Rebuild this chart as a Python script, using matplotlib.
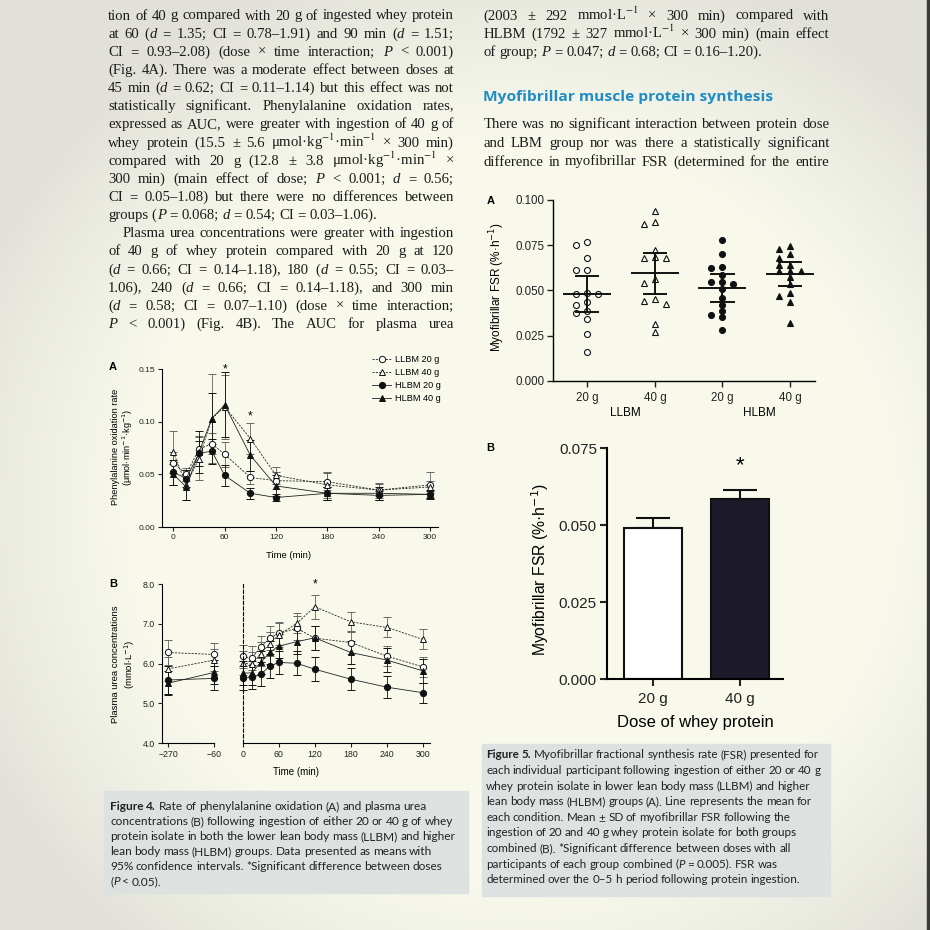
import numpy as np
import matplotlib
matplotlib.use("Agg")
import matplotlib.pyplot as plt
from matplotlib.lines import Line2D
from matplotlib.patches import Rectangle

plt.rcParams['font.family'] = 'Liberation Sans'

# ---------------- data ----------------
# Fig 4A: phenylalanine oxidation rate, mean and 95% CI half-width
t_ox = [0, 15, 30, 45, 60, 90, 120, 180, 240, 300]
ox_llbm20 = [0.061, 0.050, 0.074, 0.079, 0.069, 0.047, 0.044, 0.043, 0.035, 0.040]
ox_llbm40 = [0.071, 0.040, 0.065, 0.103, 0.114, 0.084, 0.049, 0.040, 0.035, 0.038]
ox_hlbm20 = [0.052, 0.046, 0.070, 0.072, 0.049, 0.032, 0.028, 0.032, 0.030, 0.031]
ox_hlbm40 = [0.050, 0.038, 0.071, 0.103, 0.116, 0.068, 0.039, 0.032, 0.032, 0.031]
ox_llbm20_ci = [0.010, 0.006, 0.012, 0.010, 0.012, 0.006, 0.008, 0.008, 0.006, 0.012]
ox_llbm40_ci = [0.020, 0.014, 0.020, 0.042, 0.030, 0.015, 0.008, 0.012, 0.007, 0.006]
ox_hlbm20_ci = [0.012, 0.008, 0.012, 0.012, 0.010, 0.005, 0.003, 0.006, 0.004, 0.003]
ox_hlbm40_ci = [0.010, 0.012, 0.020, 0.024, 0.031, 0.015, 0.010, 0.006, 0.006, 0.004]

# Fig 4B: plasma urea (mmol/L)
t_pre = [-270, -60]
t_post = [0, 15, 30, 45, 60, 90, 120, 180, 240, 300]
urea_llbm20 = [6.28, 6.23, 6.18, 6.14, 6.41, 6.64, 6.76, 6.89, 6.64, 6.53, 6.19, 5.92]
urea_llbm40 = [5.87, 6.09, 6.02, 5.98, 6.25, 6.50, 6.72, 7.01, 7.43, 7.05, 6.91, 6.61]
urea_hlbm20 = [5.59, 5.63, 5.63, 5.66, 5.73, 5.94, 6.03, 6.01, 5.86, 5.61, 5.41, 5.27]
urea_hlbm40 = [5.51, 5.78, 5.76, 5.77, 6.03, 6.28, 6.44, 6.55, 6.65, 6.28, 6.09, 5.82]
urea_llbm20_ci = [0.32, 0.30, 0.30, 0.30, 0.28, 0.30, 0.28, 0.30, 0.30, 0.30, 0.25, 0.25]
urea_llbm40_ci = [0.30, 0.28, 0.30, 0.30, 0.30, 0.30, 0.30, 0.25, 0.30, 0.25, 0.25, 0.25]
urea_hlbm20_ci = [0.35, 0.30, 0.30, 0.30, 0.30, 0.30, 0.30, 0.30, 0.30, 0.28, 0.27, 0.25]
urea_hlbm40_ci = [0.30, 0.30, 0.30, 0.30, 0.30, 0.30, 0.30, 0.30, 0.30, 0.30, 0.30, 0.30]

series = ['LLBM 20 g', 'LLBM 40 g', 'HLBM 20 g', 'HLBM 40 g']

# Fig 5A: individual myofibrillar FSR (%/h)
fsr_llbm20 = [0.0769, 0.0751, 0.0681, 0.0613, 0.0613, 0.0484, 0.0480, 0.0480,
              0.0434, 0.0419, 0.0386, 0.0373, 0.0341, 0.0257, 0.0160]
fsr_llbm40 = [0.0939, 0.0866, 0.0880, 0.0723, 0.0681, 0.0681, 0.0686, 0.0561,
              0.0539, 0.0441, 0.0452, 0.0423, 0.0271, 0.0312]
fsr_hlbm20 = [0.0779, 0.0700, 0.0622, 0.0631, 0.0585, 0.0545, 0.0534, 0.0545,
              0.0508, 0.0456, 0.0419, 0.0386, 0.0363, 0.0354, 0.0281]
fsr_hlbm40 = [0.0729, 0.0747, 0.0700, 0.0681, 0.0640, 0.0640, 0.0607, 0.0607,
              0.0607, 0.0576, 0.0534, 0.0470, 0.0484, 0.0437, 0.0321]
fsr_mean = [0.0480, 0.0594, 0.0511, 0.0590]
fsr_err = [0.0099, 0.0115, 0.0077, 0.0065]
cat_labels = ['20 g', '40 g', '20 g', '40 g']

# Fig 5B: both groups combined, mean and SD
dose_labels = ['20 g', '40 g']
dose_mean = [0.0492, 0.0585]
dose_sd = [0.0031, 0.0030]

# ---------------- page text ----------------
left_col = [
    "tion of 40 g compared with 20 g of ingested whey protein",
    "at 60 (_d_ = 1.35; CI = 0.78–1.91) and 90 min (_d_ = 1.51;",
    "CI = 0.93–2.08) (dose × time interaction; _P_ < 0.001)",
    "(Fig. 4A). There was a moderate effect between doses at",
    "45 min (_d_ = 0.62; CI = 0.11–1.14) but this effect was not",
    "statistically significant. Phenylalanine oxidation rates,",
    "expressed as AUC, were greater with ingestion of 40 g of",
    "whey protein (15.5 ± 5.6 μmol·kg$^{-1}$·min$^{-1}$ × 300 min)",
    "compared with 20 g (12.8 ± 3.8 μmol·kg$^{-1}$·min$^{-1}$ ×",
    "300 min) (main effect of dose; _P_ < 0.001; _d_ = 0.56;",
    "CI = 0.05–1.08) but there were no differences between",
    "groups (_P_ = 0.068; _d_ = 0.54; CI = 0.03–1.06).",
    "Plasma urea concentrations were greater with ingestion",
    "of 40 g of whey protein compared with 20 g at 120",
    "(_d_ = 0.66; CI = 0.14–1.18), 180 (_d_ = 0.55; CI = 0.03–",
    "1.06), 240 (_d_ = 0.66; CI = 0.14–1.18), and 300 min",
    "(_d_ = 0.58; CI = 0.07–1.10) (dose × time interaction;",
    "_P_ < 0.001) (Fig. 4B). The AUC for plasma urea",
]
right_top = [
    "(2003 ± 292 mmol·L$^{-1}$ × 300 min) compared with",
    "HLBM (1792 ± 327 mmol·L$^{-1}$ × 300 min) (main effect",
    "of group; _P_ = 0.047; _d_ = 0.68; CI = 0.16–1.20).",
]
heading = "Myofibrillar muscle protein synthesis"
right_para = [
    "There was no significant interaction between protein dose",
    "and LBM group nor was there a statistically significant",
    "difference in myofibrillar FSR (determined for the entire",
]
cap4 = [
    "#Figure 4.# Rate of phenylalanine oxidation (A) and plasma urea",
    "concentrations (B) following ingestion of either 20 or 40 g of whey",
    "protein isolate in both the lower lean body mass (LLBM) and higher",
    "lean body mass (HLBM) groups. Data presented as means with",
    "95% confidence intervals. *Significant difference between doses",
    "(_P_ < 0.05).",
]
cap5 = [
    "#Figure 5.# Myofibrillar fractional synthesis rate (FSR) presented for",
    "each individual participant following ingestion of either 20 or 40 g",
    "whey protein isolate in lower lean body mass (LLBM) and higher",
    "lean body mass (HLBM) groups (A). Line represents the mean for",
    "each condition. Mean ± SD of myofibrillar FSR following the",
    "ingestion of 20 and 40 g whey protein isolate for both groups",
    "combined (B). *Significant difference between doses with all",
    "participants of each group combined (_P_ = 0.005). FSR was",
    "determined over the 0–5 h period following protein ingestion.",
]

# ---------------- page ----------------
W = H = 930
fig = plt.figure(figsize=(9.3, 9.3), dpi=100)
R = fig.canvas.get_renderer()
PX = 100 / 72

bg = fig.add_axes([0, 0, 1, 1])
bg.set_xlim(0, W)
bg.set_ylim(H, 0)
bg.axis('off')

yy, xx = np.mgrid[0:H, 0:W] / W
r = ((xx - 0.55) / 0.62) ** 2 + ((yy - 0.55) / 0.6) ** 2
f = np.clip((r - 0.42) / 0.6, 0, 1)
c0 = np.array([0.975, 0.978, 0.925])
c1 = np.array([0.885, 0.885, 0.855])
bg.imshow(c0 * (1 - f[..., None]) + c1 * f[..., None], extent=(0, W, H, 0),
          aspect='auto', interpolation='bilinear')
bg.add_patch(Rectangle((927, 0), 3, H, color='#3a3a3a'))
bg.add_patch(Rectangle((104, 791), 364, 102, color='#dde2e0'))
bg.add_patch(Rectangle((482, 744), 348, 152, color='#dde2e0'))


def split_words(line):
    words, cur, buf = [], [], ''
    it = bd = False
    for ch in line + ' ':
        if ch in '_# ':
            if buf:
                cur.append((buf, it, bd))
                buf = ''
            if ch == '_':
                it = not it
            elif ch == '#':
                bd = not bd
            elif cur:
                words.append(cur)
                cur = []
        else:
            buf += ch
    return words


def put_line(x0, y, line, size, family, width=None, color='#1c1c1c',
             space=0.25, mf='stix'):
    rows, widths = [], []
    for w in split_words(line):
        row, ww = [], 0
        for txt, it, bd in w:
            t = bg.text(0, y, txt, fontsize=size, family=family, color=color,
                        style='italic' if it else 'normal',
                        weight='bold' if bd else 'normal',
                        va='baseline', ha='left', math_fontfamily=mf)
            wp = t.get_window_extent(R).width
            row.append((t, wp))
            ww += wp
        rows.append(row)
        widths.append(ww)
    gap = space * size * PX
    if width is not None and len(rows) > 1:
        gap = (width - sum(widths)) / (len(rows) - 1)
    x = x0
    for row in rows:
        for t, wp in row:
            t.set_x(x)
            x += wp
        x += gap


def natural(line, size, family, weight='normal', mf='stix'):
    t = bg.text(0, 0, line.replace('_', '').replace('#', ''), fontsize=size,
                family=family, weight=weight, math_fontfamily=mf)
    w = t.get_window_extent(R).width
    t.remove()
    return w


SERIF = 'Liberation Serif'
body = 10 * 267 / natural(left_col[11], 10, SERIF)
for i, line in enumerate(left_col):
    y = 19.5 + 18.15 * i
    if i == 11:
        put_line(108, y, line, body, SERIF)
    elif i == 12:
        put_line(122.7, y, line, body, SERIF, width=454 - 122.7)
    else:
        put_line(108, y, line, body, SERIF, width=346)
for i, line in enumerate(right_top):
    y = 19.5 + 18.1 * i
    put_line(483.3, y, line, body, SERIF, width=None if i == 2 else 346)
for i, line in enumerate(right_para):
    put_line(483.3, 128.3 + 18.6 * i, line, body, SERIF, width=346)

hsize = 10 * 289 / natural(heading, 10, 'Open Sans', 'bold')
bg.text(483.3, 100.7, heading, fontsize=hsize, family='Open Sans',
        weight='bold', color='#1f8cc6', va='baseline')

csize4 = 10 * 348 / natural(cap4[2], 10, 'Lato')
for i, line in enumerate(cap4):
    put_line(110, 810 + 15 * i, line, csize4, 'Lato', color='#222222', space=0.22)
csize5 = 10 * 338 / natural(cap5[1], 10, 'Lato')
for i, line in enumerate(cap5):
    put_line(486, 758.3 + 15.62 * i, line, csize5, 'Lato', color='#222222', space=0.22)


def px_axes(x0, y0, x1, y1):
    ax = fig.add_axes([x0 / W, 1 - y1 / H, (x1 - x0) / W, (y1 - y0) / H])
    ax.set_facecolor('none')
    ax.spines['top'].set_visible(False)
    ax.spines['right'].set_visible(False)
    return ax


def tidy(ax, lw, tlen, lsize):
    for s in ('left', 'bottom'):
        ax.spines[s].set_linewidth(lw)
    ax.tick_params(direction='out', length=tlen, width=lw, labelsize=lsize,
                   colors='#222222', pad=2)


styles = {
    'LLBM 20 g': dict(marker='o', mfc='white', ls=(0, (2.5, 1.5)), ec='#666666'),
    'LLBM 40 g': dict(marker='^', mfc='white', ls=(0, (2.5, 1.5)), ec='#666666'),
    'HLBM 20 g': dict(marker='o', mfc='#111111', ls='-', ec='#111111'),
    'HLBM 40 g': dict(marker='^', mfc='#111111', ls='-', ec='#111111'),
}


def draw_series(ax, t, m, e, name, ms, cap):
    st = styles[name]
    cont = ax.errorbar(t, m, yerr=e, color='#222222', ls=st['ls'], lw=0.6,
                       marker=st['marker'], ms=ms, mfc=st['mfc'], mec='#111111',
                       mew=0.7, ecolor=st['ec'], elinewidth=0.6, capsize=cap,
                       capthick=0.6)
    for a in cont.get_children():
        a.set_clip_on(False)


# ---- Figure 4A ----
ax = px_axes(161.7, 369, 438, 527)
tidy(ax, 0.8, 3, 6)
ax.set_xlim(-13.6, 309.3)
ax.set_ylim(0, 0.15)
ax.set_xticks(range(0, 301, 60))
ax.set_yticks([0, 0.05, 0.10, 0.15])
ax.set_yticklabels(['0.00', '0.05', '0.10', '0.15'])
ox = [(ox_llbm20, ox_llbm20_ci), (ox_llbm40, ox_llbm40_ci),
      (ox_hlbm20, ox_hlbm20_ci), (ox_hlbm40, ox_hlbm40_ci)]
for name, (m, e) in zip(series, ox):
    draw_series(ax, t_ox, m, e, name, 4.5, 2.8)
ax.text(60, 0.150, '*', ha='center', va='center', fontsize=8.5)
ax.text(90, 0.105, '*', ha='center', va='center', fontsize=8.5)
handles = [Line2D([], [], color='#222222', lw=0.6, ls=styles[n]['ls'],
                  marker=styles[n]['marker'], mfc=styles[n]['mfc'],
                  mec='#111111', mew=0.7, ms=4.5) for n in series]
ax.legend(handles, series, loc='upper left', bbox_to_anchor=(372 / W, 1 - 355 / H),
          bbox_transform=fig.transFigure, frameon=False, fontsize=6.6,
          handlelength=2.1, handletextpad=0.4, labelspacing=0.45,
          borderaxespad=0, borderpad=0)
bg.text(289, 555, 'Time (min)', ha='center', va='center', fontsize=6.8)
bg.text(115, 447, 'Phenylalanine oxidation rate', rotation=90, ha='center',
        va='center', fontsize=6.6)
bg.text(128, 447, '(μmol·min$^{-1}$·kg$^{-1}$)', rotation=90, ha='center',
        va='center', fontsize=6.6, math_fontfamily='dejavusans')
bg.text(113, 367, 'A', ha='center', va='center', fontsize=8, weight='bold')

# ---- Figure 4B ----
axl = px_axes(161.7, 584, 214.3, 743.3)
axr = px_axes(242.7, 584, 430, 743.3)
tidy(axl, 0.8, 3, 6.3)
tidy(axr, 0.8, 3, 6.3)
axl.set_xlim(-300, -60)
axr.set_xlim(0, 312)
for a in (axl, axr):
    a.set_ylim(4, 8)
axl.set_yticks([4, 5, 6, 7, 8])
axl.set_yticklabels(['4.0', '5.0', '6.0', '7.0', '8.0'])
axl.set_xticks(t_pre)
axl.set_xticklabels(['\u2212270', '\u221260'])
axr.set_xticks(range(0, 301, 60))
axr.tick_params(left=False, labelleft=False)
axr.spines['left'].set_linestyle((0, (3, 2)))
urea = [(urea_llbm20, urea_llbm20_ci), (urea_llbm40, urea_llbm40_ci),
        (urea_hlbm20, urea_hlbm20_ci), (urea_hlbm40, urea_hlbm40_ci)]
for name, (m, e) in zip(series, urea):
    draw_series(axl, t_pre, m[:2], e[:2], name, 4.5, 2.8)
    draw_series(axr, t_post, m[2:], e[2:], name, 4.5, 2.8)
axr.text(120, 7.98, '*', ha='center', va='center', fontsize=8.5)
bg.text(296, 772, 'Time (min)', ha='center', va='center', fontsize=7)
bg.text(115, 664, 'Plasma urea concentrations', rotation=90, ha='center',
        va='center', fontsize=6.8)
bg.text(130, 664, '(mmol·L$^{-1}$)', rotation=90, ha='center', va='center',
        fontsize=6.8, math_fontfamily='dejavusans')
bg.text(113, 584, 'B', ha='center', va='center', fontsize=8, weight='bold')

# ---- Figure 5A ----
ax = px_axes(552.7, 200, 815, 380.7)
tidy(ax, 1.0, 4, 8.3)
ax.set_xlim(-0.513, 3.37)
ax.set_ylim(0, 0.1)
ax.set_yticks([0, 0.025, 0.05, 0.075, 0.1])
ax.set_yticklabels(['0.000', '0.025', '0.050', '0.075', '0.100'])
ax.set_xticks(range(4))
ax.set_xticklabels(cat_labels)
ax.tick_params(axis='x', pad=4)


def swarm(vals, ypx=1807, diam=5.5, dx=0.163):
    cols = np.zeros(len(vals))
    placed = []
    for i in np.argsort(vals)[::-1]:
        y = vals[i] * ypx
        for c in (0, -1, 1, -2, 2):
            if all(abs(y - py) >= diam for pc, py in placed if pc == c):
                break
        placed.append((c, y))
        cols[i] = c
    return cols * dx


groups = [fsr_llbm20, fsr_llbm40, fsr_hlbm20, fsr_hlbm40]
for k, (vals, name) in enumerate(zip(groups, series)):
    st = styles[name]
    v = np.array(vals)
    ax.plot(k + swarm(v), v, ls='none', marker=st['marker'], ms=4.3,
            mfc=st['mfc'], mec='#111111', mew=0.8, clip_on=False, zorder=3)
    m, e = fsr_mean[k], fsr_err[k]
    ax.plot([k - 0.34, k + 0.34], [m, m], color='#111111', lw=1.4, zorder=4)
    ax.plot([k, k], [m - e, m + e], color='#111111', lw=1.4, zorder=4)
    for yv in (m - e, m + e):
        ax.plot([k - 0.165, k + 0.165], [yv, yv], color='#111111', lw=1.4, zorder=4)
bg.text(625, 413, 'LLBM', ha='center', va='center', fontsize=8.5)
bg.text(759, 413, 'HLBM', ha='center', va='center', fontsize=8.5)
bg.text(497, 287, 'Myofibrillar FSR (%·h$^{-1}$)', rotation=90, ha='center',
        va='center', fontsize=8.5, math_fontfamily='dejavusans')
bg.text(491, 201, 'A', ha='center', va='center', fontsize=8, weight='bold')

# ---- Figure 5B ----
ax = px_axes(606.7, 448.3, 783, 679.3)
tidy(ax, 1.5, 5, 11)
ax.set_xlim(-0.538, 1.5)
ax.set_ylim(0, 0.075)
ax.set_yticks([0, 0.025, 0.05, 0.075])
ax.set_yticklabels(['0.000', '0.025', '0.050', '0.075'])
ax.set_xticks([0, 1])
ax.set_xticklabels(dose_labels)
ax.tick_params(axis='x', pad=4)
ax.bar([0, 1], dose_mean, width=0.67, color=['white', '#1c1a28'],
       edgecolor='#111111', linewidth=1.5, zorder=2)
ax.errorbar([0, 1], dose_mean, yerr=[[0, 0], dose_sd], fmt='none',
            ecolor='#111111', elinewidth=1.5, capsize=12.5, capthick=1.5, zorder=1)
ax.text(1, 0.0695, '*', ha='center', va='center', fontsize=16)
bg.text(695, 722, 'Dose of whey protein', ha='center', va='center', fontsize=12)
bg.text(540, 570, 'Myofibrillar FSR (%·h$^{-1}$)', rotation=90, ha='center',
        va='center', fontsize=11.3, math_fontfamily='dejavusans')
bg.text(490, 448, 'B', ha='center', va='center', fontsize=8, weight='bold')

fig.savefig('out.png', dpi=100)
